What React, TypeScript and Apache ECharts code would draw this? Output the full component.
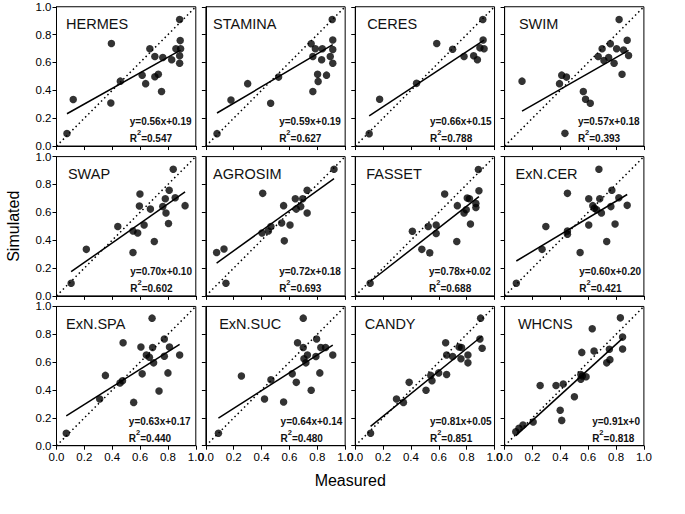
import React, { useEffect, useRef } from "react";
import * as echarts from "echarts";

const MODELS = ["HERMES", "STAMINA", "CERES", "SWIM", "SWAP", "AGROSIM", "FASSET", "ExN.CER", "ExN.SPA", "ExN.SUC", "CANDY", "WHCNS"];

const HERMES = [[0.075, 0.09], [0.12, 0.334], [0.394, 0.736], [0.39, 0.309], [0.458, 0.466], [0.615, 0.509], [0.64, 0.448], [0.67, 0.698], [0.706, 0.643], [0.706, 0.498], [0.731, 0.516], [0.754, 0.391], [0.763, 0.636], [0.827, 0.62], [0.857, 0.698], [0.884, 0.909], [0.888, 0.757], [0.891, 0.698], [0.884, 0.648], [0.884, 0.595]];
const STAMINA = [[0.08, 0.089], [0.18, 0.33], [0.3, 0.448], [0.465, 0.307], [0.522, 0.495], [0.756, 0.734], [0.768, 0.643], [0.786, 0.698], [0.768, 0.391], [0.802, 0.516], [0.806, 0.464], [0.831, 0.62], [0.836, 0.698], [0.866, 0.509], [0.893, 0.643], [0.907, 0.909], [0.911, 0.761], [0.911, 0.693], [0.911, 0.595]];
const CERES = [[0.1, 0.089], [0.175, 0.336], [0.44, 0.45], [0.585, 0.736], [0.699, 0.695], [0.781, 0.643], [0.85, 0.648], [0.877, 0.62], [0.895, 0.705], [0.916, 0.909], [0.918, 0.761], [0.925, 0.698]];
const SWIM = [[0.125, 0.466], [0.394, 0.448], [0.41, 0.509], [0.444, 0.495], [0.433, 0.091], [0.565, 0.391], [0.581, 0.336], [0.615, 0.307], [0.672, 0.643], [0.7, 0.698], [0.713, 0.614], [0.747, 0.636], [0.759, 0.734], [0.786, 0.595], [0.804, 0.698], [0.822, 0.909], [0.843, 0.516], [0.854, 0.689], [0.88, 0.76], [0.89, 0.65]];
const SWAP = [[0.105, 0.091], [0.214, 0.334], [0.44, 0.498], [0.549, 0.311], [0.549, 0.466], [0.583, 0.452], [0.595, 0.645], [0.599, 0.732], [0.629, 0.509], [0.674, 0.623], [0.702, 0.391], [0.763, 0.641], [0.781, 0.698], [0.786, 0.595], [0.804, 0.52], [0.809, 0.759], [0.838, 0.909], [0.852, 0.705], [0.923, 0.648]];
const AGROSIM = [[0.077, 0.311], [0.13, 0.336], [0.144, 0.091], [0.408, 0.736], [0.403, 0.452], [0.449, 0.466], [0.467, 0.498], [0.544, 0.523], [0.558, 0.648], [0.563, 0.395], [0.604, 0.509], [0.642, 0.698], [0.649, 0.623], [0.681, 0.641], [0.695, 0.698], [0.727, 0.759], [0.727, 0.595], [0.92, 0.909]];
const FASSET = [[0.107, 0.091], [0.41, 0.464], [0.478, 0.334], [0.524, 0.498], [0.535, 0.309], [0.581, 0.509], [0.581, 0.448], [0.642, 0.732], [0.729, 0.391], [0.733, 0.648], [0.781, 0.595], [0.797, 0.618], [0.804, 0.702], [0.82, 0.698], [0.827, 0.516], [0.866, 0.664], [0.866, 0.634], [0.884, 0.907], [0.888, 0.755]];
const EXN_CER = [[0.084, 0.091], [0.269, 0.334], [0.296, 0.498], [0.451, 0.736], [0.451, 0.466], [0.451, 0.443], [0.542, 0.311], [0.604, 0.698], [0.604, 0.509], [0.633, 0.648], [0.645, 0.63], [0.661, 0.618], [0.677, 0.909], [0.683, 0.698], [0.695, 0.595], [0.733, 0.391], [0.763, 0.641], [0.77, 0.759], [0.793, 0.516], [0.82, 0.705], [0.88, 0.65]];
const EXN_SPA = [[0.07, 0.09], [0.31, 0.336], [0.351, 0.505], [0.456, 0.45], [0.474, 0.466], [0.478, 0.739], [0.554, 0.311], [0.606, 0.709], [0.615, 0.516], [0.645, 0.652], [0.667, 0.636], [0.686, 0.916], [0.69, 0.705], [0.697, 0.595], [0.736, 0.393], [0.774, 0.766], [0.774, 0.643], [0.8, 0.523], [0.811, 0.709], [0.884, 0.652]];
const EXN_SUC = [[0.09, 0.09], [0.255, 0.5], [0.421, 0.336], [0.467, 0.473], [0.558, 0.314], [0.62, 0.516], [0.649, 0.455], [0.658, 0.739], [0.699, 0.916], [0.699, 0.705], [0.704, 0.625], [0.718, 0.595], [0.729, 0.652], [0.756, 0.398], [0.79, 0.641], [0.795, 0.766], [0.818, 0.523], [0.825, 0.705], [0.859, 0.705], [0.911, 0.652]];
const CANDY = [[0.11, 0.09], [0.296, 0.336], [0.346, 0.311], [0.387, 0.455], [0.508, 0.398], [0.542, 0.505], [0.551, 0.466], [0.599, 0.523], [0.649, 0.739], [0.656, 0.652], [0.656, 0.511], [0.699, 0.641], [0.745, 0.709], [0.763, 0.705], [0.759, 0.625], [0.809, 0.652], [0.809, 0.595], [0.895, 0.766], [0.9, 0.916], [0.911, 0.7]];
const WHCNS = [[0.08, 0.1], [0.103, 0.125], [0.132, 0.148], [0.205, 0.17], [0.255, 0.432], [0.369, 0.432], [0.399, 0.255], [0.41, 0.182], [0.421, 0.443], [0.501, 0.352], [0.547, 0.477], [0.554, 0.67], [0.547, 0.511], [0.558, 0.5], [0.585, 0.495], [0.629, 0.84], [0.642, 0.68], [0.733, 0.595], [0.752, 0.693], [0.756, 0.618], [0.831, 0.918], [0.847, 0.78], [0.847, 0.695]];

const POINTS = [HERMES, STAMINA, CERES, SWIM, SWAP, AGROSIM, FASSET, EXN_CER, EXN_SPA, EXN_SUC, CANDY, WHCNS];
const SLOPES = [0.56, 0.59, 0.66, 0.57, 0.7, 0.72, 0.78, 0.6, 0.63, 0.64, 0.81, 0.91];
const INTERCEPTS = [0.19, 0.19, 0.15, 0.18, 0.1, 0.18, 0.02, 0.2, 0.17, 0.14, 0.05, 0];
const EQUATIONS = ["y=0.56x+0.19", "y=0.59x+0.19", "y=0.66x+0.15", "y=0.57x+0.18", "y=0.70x+0.10", "y=0.72x+0.18", "y=0.78x+0.02", "y=0.60x+0.20", "y=0.63x+0.17", "y=0.64x+0.14", "y=0.81x+0.05", "y=0.91x+0"];
const R2 = ["0.547", "0.627", "0.788", "0.393", "0.602", "0.693", "0.688", "0.421", "0.440", "0.480", "0.851", "0.818"];
const AXIS_MIN = 0;
const AXIS_MAX = 1;
const AXIS_STEP = 0.2;

// layout (not data)
const S = 685 / 720;
const OFFX = 2;
const OFFY = 2;
const LEFT0 = 57.3 * S + OFFX;
const TOP0 = 5 * S + OFFY;
const PITCH_X = 157 * S;
const PITCH_Y = 157.5 * S;
const W = 146.4 * S;
const H = 146.4 * S;
const TITLE_DX = [10, 7.5, 12.5, 15, 12, 7.5, 11.5, 11.5, 10, 14, 10, 14];
const EQ_DX = [77, 77, 78.5, 77, 77.5, 77, 77.5, 78.5, 76, 78.5, 78.5, 92];

const FONT = "'Liberation Sans', Arial, Helvetica, sans-serif";

export default function App() {
  const ref = useRef<HTMLDivElement>(null);
  useEffect(() => {
    if (!ref.current) return;
    const chart = echarts.init(ref.current, null, { renderer: "svg" });
    const grids: any[] = [];
    const xAxes: any[] = [];
    const yAxes: any[] = [];
    const series: any[] = [];
    const graphics: any[] = [];
    const txt = (x: number, y: number, text: string, font: string, extra: any = {}) => ({
      type: "text",
      x,
      y,
      z: 10,
      ...extra,
      style: { text, fill: "#111", font, align: "left", verticalAlign: "middle", textAlign: "left", textVerticalAlign: "middle", ...(extra.style || {}) },
    });
    MODELS.forEach((name, i) => {
      const row = Math.floor(i / 4);
      const col = i % 4;
      const left = LEFT0 + col * PITCH_X;
      const top = TOP0 + row * PITCH_Y;
      const bottom = top + H;
      grids.push({ left, top, width: W, height: H, show: true, borderColor: "#000", borderWidth: 1, backgroundColor: "transparent", containLabel: false });
      const common = {
        gridIndex: i,
        type: "value",
        min: AXIS_MIN,
        max: AXIS_MAX,
        interval: AXIS_STEP,
        axisLine: { show: true, onZero: false, lineStyle: { color: "#000", width: 1 } },
        axisTick: { show: true, inside: false, length: 4, lineStyle: { color: "#000", width: 1 } },
        splitLine: { show: false },
      };
      const lab = { formatter: (v: number) => v.toFixed(1), fontSize: 11.5, color: "#000", fontFamily: FONT, margin: 5, showMinLabel: true, showMaxLabel: true };
      xAxes.push({ ...common, axisLabel: { ...lab, show: row === 2 } });
      yAxes.push({ ...common, axisLabel: { ...lab, show: col === 0 } });
      const pts = POINTS[i];
      const xs = pts.map((p) => p[0]);
      const xMin = Math.min(...xs);
      const xMax = Math.max(...xs);
      series.push({
        type: "line",
        xAxisIndex: i,
        yAxisIndex: i,
        data: [[AXIS_MIN, AXIS_MIN], [AXIS_MAX, AXIS_MAX]],
        showSymbol: false,
        symbol: "none",
        lineStyle: { color: "#000", width: 1.5, type: [1.5, 3] },
        silent: true,
        z: 1,
      });
      series.push({
        type: "line",
        xAxisIndex: i,
        yAxisIndex: i,
        data: [[xMin, SLOPES[i] * xMin + INTERCEPTS[i]], [xMax, SLOPES[i] * xMax + INTERCEPTS[i]]],
        showSymbol: false,
        symbol: "none",
        lineStyle: { color: "#000", width: 1.5, type: "solid" },
        silent: true,
        z: 2,
      });
      series.push({
        type: "scatter",
        xAxisIndex: i,
        yAxisIndex: i,
        data: pts,
        symbol: "circle",
        symbolSize: 7.5,
        itemStyle: { color: "#000" },
        silent: true,
        z: 3,
      });
      graphics.push(txt(left + TITLE_DX[i] * S, top + 18.5 * S, name, `14.5px ${FONT}`));
      const ex = left + EQ_DX[i] * S;
      graphics.push(txt(ex, bottom - 25.5 * S, EQUATIONS[i], `bold 10px ${FONT}`));
      graphics.push(txt(ex, bottom - 8 * S, "R", `bold 10px ${FONT}`));
      graphics.push(txt(ex + 7.2, bottom - 8 * S - 6, "2", `bold 7.5px ${FONT}`));
      graphics.push(txt(ex + 11.4, bottom - 8 * S, "=" + R2[i], `bold 10px ${FONT}`));
    });
    const plotLeft = LEFT0;
    const plotRight = LEFT0 + 3 * PITCH_X + W;
    const plotTop = TOP0;
    const plotBottom = TOP0 + 2 * PITCH_Y + H;
    graphics.push(txt(13.5, (plotTop + plotBottom) / 2, "Simulated", `16px ${FONT}`, { rotation: Math.PI / 2, style: { fill: "#000", align: "center", textAlign: "center" } }));
    graphics.push(txt((plotLeft + plotRight) / 2, plotBottom + 35, "Measured", `16px ${FONT}`, { style: { fill: "#000", align: "center", textAlign: "center" } }));
    chart.setOption({
      animation: false,
      backgroundColor: "#fff",
      grid: grids,
      xAxis: xAxes,
      yAxis: yAxes,
      series,
      graphic: { elements: graphics },
    });
    return () => chart.dispose();
  }, []);
  return <div ref={ref} style={{ position: "absolute", left: 0, top: 0, width: 685, height: 514 }} />;
}
